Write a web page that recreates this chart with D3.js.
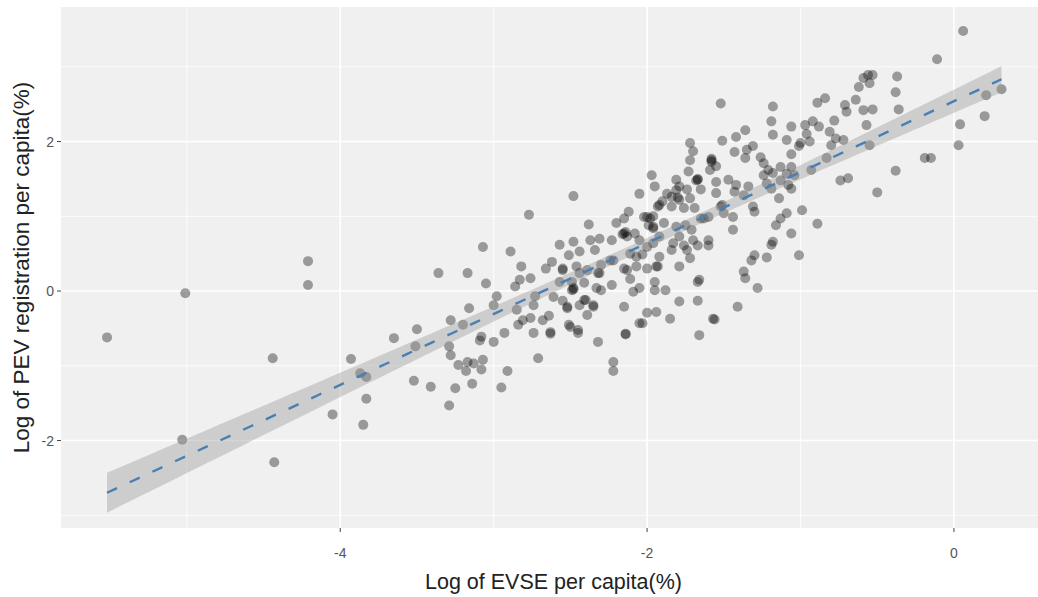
<!DOCTYPE html>
<html><head><meta charset="utf-8">
<script src="https://cdn.jsdelivr.net/npm/d3@7"></script>
<style>body{margin:0;background:#fff}</style>
</head><body><svg id="c" width="1038" height="597"></svg>
<script>
// Log of EVSE per capita (%)
const evse = [
-5.52,-5.01,-5.03,-4.44,-4.43,
-4.21,-4.21,-3.36,-3.17,-3.07,-3.05,-3.16,-3.28,-3.20,-3.08,-3.09,-3.50,-3.65,-3.51,-3.29,-3.28,-3.93,-3.87,-3.83,-3.23,-3.17,-3.13,-3.18,-3.08,-3.07,-3.52,-3.41,-3.25,-3.14,-3.83,-4.05,-3.85,-3.29,
-2.48,-2.77,-2.38,-2.89,-2.57,-2.48,-2.37,-2.31,-2.34,-2.44,-2.51,-2.62,-2.66,-2.82,-2.55,-2.46,-2.39,-2.32,-2.30,-2.83,-2.86,-2.76,-2.57,-2.48,-2.49,-2.41,-2.33,-2.30,-2.98,-2.73,-2.74,-2.61,-2.55,-2.44,-2.40,-2.35,-2.52,-3.00,-2.85,-2.39,-2.81,-2.76,-2.84,-2.68,-2.64,-2.51,-3.00,-2.93,-2.74,-2.63,-2.45,-2.32,-2.71,-2.91,-2.95,
-2.20,-2.23,-2.23,-2.22,-2.22,-2.48,-2.55,-2.63,
-1.52,-1.72,-1.70,-1.51,-1.42,-1.43,-1.72,-1.58,-1.55,-1.59,-1.73,-1.67,-1.97,-1.95,-1.55,-1.47,-1.81,-1.79,-1.74,-1.65,-2.05,-1.84,-1.80,-1.72,-1.55,-1.43,-1.92,-1.84,-1.76,-1.69,-1.51,-1.50,-1.60,-1.65,-2.12,-2.02,-1.96,-1.99,-1.89,-2.15,-2.15,-2.13,-2.08,-2.05,-1.96,-1.92,-1.81,-1.75,-1.71,-1.79,-1.83,-1.70,-1.96,-2.00,-2.22,-2.11,-2.03,-1.92,-1.84,-1.76,-1.74,-1.67,-1.60,-1.60,-1.72,-2.15,-2.07,-2.00,-1.93,-1.79,-2.11,-1.95,-1.66,-2.09,-2.05,-1.95,-1.88,-1.79,-1.67,-1.41,-2.15,-2.00,-1.94,-1.85,-2.03,-1.56,-2.14,-1.66,
-2.14,-1.98,-1.67,-1.58,-1.87,-1.90,
-0.56,-0.62,-0.59,-0.64,-0.71,-0.70,-0.59,-0.57,-1.18,-0.89,-0.84,-1.19,-1.18,-1.36,-1.06,-0.97,-0.92,-0.88,-0.78,-0.96,-1.09,-1.00,-0.94,-0.81,-0.77,-0.72,-0.80,-1.31,-1.35,-1.36,-1.06,-1.01,-1.26,-1.24,-1.21,-1.13,-1.06,-0.93,-0.83,-1.18,-1.24,-1.09,-1.04,-1.13,-1.08,-1.42,-1.34,-1.22,-1.19,-1.06,-1.37,-1.14,-0.74,-0.69,-1.31,-1.30,-0.99,-1.09,-1.44,-1.13,-1.16,-0.89,-1.44,-1.06,-1.18,-1.19,-1.30,-1.32,-1.22,-1.01,-1.37,-1.36,-1.28,
0.06,-0.11,-0.53,-0.55,-0.37,-0.38,-0.36,-0.53,-0.55,-0.19,-0.15,-0.38,-0.50,0.04,0.03,0.21,0.20,0.31,
-2.16,-2.00,-1.96,-1.93,-1.81,-1.79,-1.68,-1.58,-1.63,-1.52,-2.49,-2.35,-2.07,-2.13,-1.94,-2.24,-2.31,-2.44,-2.52,-2.45,-2.50,-2.14,-2.05,-1.67,-1.57,-2.41
];
// Log of PEV registration per capita (%)
const pev = [
-0.62,-0.03,-1.99,-0.90,-2.29,
0.40,0.08,0.24,0.24,0.59,0.10,-0.23,-0.39,-0.45,-0.61,-0.66,-0.51,-0.63,-0.74,-0.74,-0.86,-0.91,-1.10,-1.15,-0.99,-0.95,-0.97,-1.07,-1.05,-0.92,-1.20,-1.28,-1.30,-1.24,-1.44,-1.65,-1.79,-1.53,
1.27,1.02,0.89,0.53,0.62,0.66,0.68,0.70,0.55,0.53,0.48,0.39,0.30,0.33,0.28,0.33,0.28,0.24,0.35,0.15,0.06,0.17,0.12,0.02,0.12,0.11,0.04,0.01,-0.07,-0.07,-0.19,-0.08,-0.13,-0.19,-0.12,-0.19,-0.23,-0.19,-0.25,-0.32,-0.39,-0.36,-0.45,-0.39,-0.33,-0.45,-0.68,-0.56,-0.56,-0.57,-0.56,-0.68,-0.90,-1.07,-1.29,
0.91,0.68,0.08,-0.95,-1.07,0.04,0.30,-0.55,
2.51,1.98,1.87,2.01,2.06,1.86,1.75,1.75,1.67,1.62,1.60,1.49,1.55,1.40,1.46,1.49,1.49,1.40,1.36,1.36,1.30,1.26,1.25,1.24,1.31,1.33,1.15,1.13,1.11,1.11,1.15,1.04,0.99,0.97,1.06,0.99,1.00,0.88,0.91,0.97,0.77,0.73,0.77,0.68,0.84,0.73,0.86,0.88,0.82,0.73,0.64,0.68,0.64,0.59,0.41,0.50,0.49,0.46,0.55,0.61,0.55,0.61,0.61,0.68,0.44,0.30,0.33,0.30,0.33,0.33,0.16,0.12,0.15,-0.01,0.04,0.01,0.01,-0.14,-0.13,-0.21,-0.21,-0.29,-0.28,-0.37,-0.43,-0.38,-0.58,-0.59,
0.79,0.97,1.50,1.77,1.30,1.20,
2.89,2.73,2.85,2.56,2.49,2.40,2.42,2.22,2.47,2.52,2.58,2.27,2.09,2.15,2.20,2.22,2.27,2.20,2.28,2.10,2.02,1.98,2.00,2.13,2.04,2.02,1.95,1.94,1.89,1.78,1.83,1.94,1.79,1.71,1.62,1.66,1.66,1.62,1.78,1.58,1.55,1.57,1.55,1.48,1.42,1.42,1.40,1.44,1.37,1.37,1.28,1.24,1.48,1.51,1.13,1.06,1.08,1.04,0.99,0.97,0.88,0.90,0.82,0.77,0.66,0.62,0.48,0.41,0.45,0.48,0.26,0.17,0.04,
3.48,3.10,2.89,2.78,2.87,2.66,2.43,2.43,1.95,1.78,1.78,1.61,1.32,2.23,1.95,2.62,2.34,2.70,
0.76,0.99,0.86,1.13,1.35,1.22,1.48,1.73,0.97,1.13,0.01,-0.21,0.46,0.28,0.33,0.41,0.24,0.24,-0.21,-0.52,-0.48,-0.57,-0.43,0.12,-0.37,-0.12
];
const xTicks = [-4, -2, 0];
const yTicks = [-2, 0, 2];
const xMinor = [-5, -3, -1];
const yMinor = [-3, -1, 1, 3];
const xTitle = "Log of EVSE per capita(%)";
const yTitle = "Log of PEV registration per capita(%)";

const svg = d3.select("#c");
const P = {left: 61, top: 7, right: 1046, bottom: 528};
const x = d3.scaleLinear().domain([-5.82, 0.60]).range([P.left, P.right]);
const y = d3.scaleLinear().domain([-3.17, 3.80]).range([P.bottom, P.top]);

svg.append("rect").attr("x", P.left).attr("y", P.top)
  .attr("width", P.right - P.left).attr("height", P.bottom - P.top).attr("fill", "#f0f0f0");

const g = svg.append("g");
g.selectAll(".vmin").data(xMinor).join("line").attr("x1", d => x(d)).attr("x2", d => x(d))
  .attr("y1", P.top).attr("y2", P.bottom).attr("stroke", "#fff").attr("stroke-width", 0.8);
g.selectAll(".hmin").data(yMinor).join("line").attr("y1", d => y(d)).attr("y2", d => y(d))
  .attr("x1", P.left).attr("x2", P.right).attr("stroke", "#fff").attr("stroke-width", 0.8);
g.selectAll(".vmaj").data(xTicks).join("line").attr("x1", d => x(d)).attr("x2", d => x(d))
  .attr("y1", P.top).attr("y2", P.bottom).attr("stroke", "#fff").attr("stroke-width", 1.6);
g.selectAll(".hmaj").data(yTicks).join("line").attr("y1", d => y(d)).attr("y2", d => y(d))
  .attr("x1", P.left).attr("x2", P.right).attr("stroke", "#fff").attr("stroke-width", 1.6);

const pts = evse.map((v, i) => ({x: v, y: pev[i]}));
svg.append("g").selectAll("circle").data(pts).join("circle")
  .attr("cx", d => x(d.x)).attr("cy", d => y(d.y)).attr("r", 5)
  .attr("fill", "#000").attr("fill-opacity", 0.36);

// linear model with 95% confidence band (like geom_smooth(method = "lm"))
const n = pts.length;
const mx = d3.mean(pts, d => d.x), my = d3.mean(pts, d => d.y);
const Sxx = d3.sum(pts, d => (d.x - mx) ** 2);
const Sxy = d3.sum(pts, d => (d.x - mx) * (d.y - my));
const b = Sxy / Sxx, a = my - b * mx;
const sse = d3.sum(pts, d => (d.y - a - b * d.x) ** 2);
const s = Math.sqrt(sse / (n - 2));
const tq = 1.968;
const [xmin, xmax] = d3.extent(pts, d => d.x);
const grid = d3.range(0, 81).map(i => xmin + (xmax - xmin) * i / 80);
const fit = grid.map(xv => {
  const f = a + b * xv;
  const se = s * Math.sqrt(1 / n + (xv - mx) ** 2 / Sxx);
  return {x: xv, f, lo: f - tq * se, hi: f + tq * se};
});
svg.append("path").datum(fit)
  .attr("d", d3.area().x(d => x(d.x)).y0(d => y(d.lo)).y1(d => y(d.hi)))
  .attr("fill", "#999").attr("fill-opacity", 0.4);
svg.append("path").datum(fit)
  .attr("d", d3.line().x(d => x(d.x)).y(d => y(d.f)))
  .attr("fill", "none").attr("stroke", "#4a7fb4").attr("stroke-width", 2.4)
  .attr("stroke-dasharray", "11,14");

const font = "'Liberation Sans', Arial, sans-serif";
// x axis
const xa = svg.append("g");
xa.selectAll("line").data(xTicks).join("line")
  .attr("x1", d => x(d)).attr("x2", d => x(d)).attr("y1", P.bottom).attr("y2", P.bottom + 4)
  .attr("stroke", "#444").attr("stroke-width", 1);
xa.selectAll("text").data(xTicks).join("text")
  .attr("x", d => x(d)).attr("y", 558).attr("text-anchor", "middle")
  .attr("font-family", font).attr("font-size", 14).attr("fill", "#555")
  .text(d => d);
// y axis
const ya = svg.append("g");
ya.selectAll("line").data(yTicks).join("line")
  .attr("y1", d => y(d)).attr("y2", d => y(d)).attr("x1", P.left - 4).attr("x2", P.left)
  .attr("stroke", "#444").attr("stroke-width", 1);
ya.selectAll("text").data(yTicks).join("text")
  .attr("x", P.left - 7).attr("y", d => y(d)).attr("dy", "0.36em").attr("text-anchor", "end")
  .attr("font-family", font).attr("font-size", 14).attr("fill", "#555")
  .text(d => d);

svg.append("text").attr("x", (P.left + P.right) / 2).attr("y", 589).attr("text-anchor", "middle")
  .attr("font-family", font).attr("font-size", 21.5).attr("fill", "#222").text(xTitle);
svg.append("text").attr("transform", `translate(29,${(P.top + P.bottom) / 2}) rotate(-90)`)
  .attr("text-anchor", "middle")
  .attr("font-family", font).attr("font-size", 22.5).attr("fill", "#222").text(yTitle);
</script></body></html>
